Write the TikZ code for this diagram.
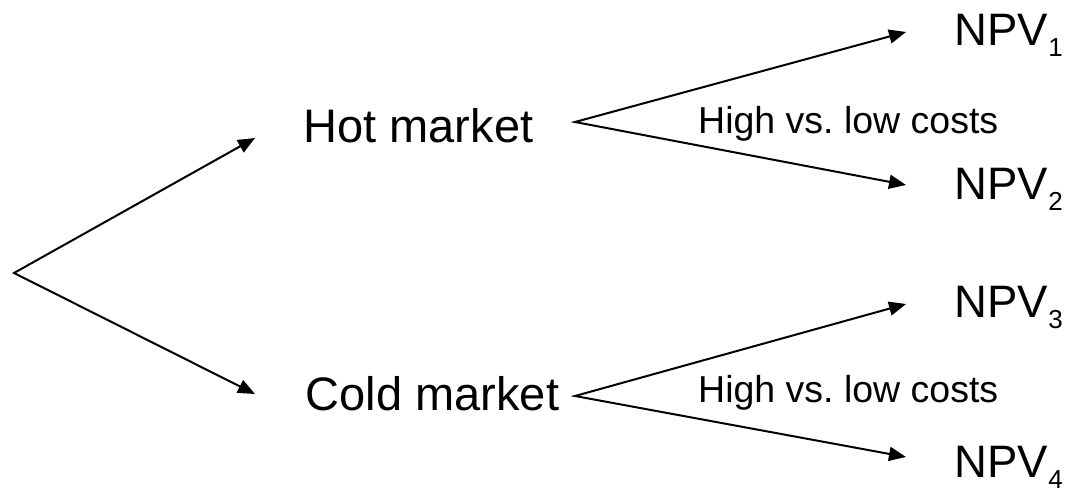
\documentclass[tikz,border=0pt]{standalone}
\usepackage{fontspec}
\setmainfont{Liberation Sans}
\usetikzlibrary{arrows.meta}
\frenchspacing
% lowered index after an outcome label
\newcommand\outidx[1]{\raisebox{-11pt}{\fontsize{26}{30}\selectfont #1}}
\begin{document}
\begin{tikzpicture}[x=1pt,y=-1pt,
  fork/.style={line width=2pt, line join=miter,
    {Triangle[length=17pt,width=14pt]}-{Triangle[length=17pt,width=14pt]}},
  market/.style={anchor=base west, inner sep=0pt, font=\fontsize{47}{56}\selectfont},
  outcome/.style={anchor=base west, inner sep=0pt, font=\fontsize{45.5}{54}\selectfont},
  costs/.style={anchor=base west, inner sep=0pt, font=\fontsize{37.5}{45}\selectfont}]
\useasboundingbox (0,0) rectangle (1071,494);

% first stage: market condition
\coordinate (root) at (14,273);
\node[market] (hot)  at (303.3,143) {Hot market};
\node[market] (cold) at (305.7,410) {Cold market};
\coordinate (hotin)  at (255,138);
\coordinate (coldin) at (255,394);
\draw[fork] (hotin) -- (root) -- (coldin);

% second stage: cost level
\coordinate (hotsplit)  at (575,122);
\coordinate (coldsplit) at (575,396);
\node[outcome] (npv1) at (954.5,46)  {NPV\outidx{1}};
\node[outcome] (npv2) at (954.5,200) {NPV\outidx{2}};
\node[outcome] (npv3) at (954.5,318) {NPV\outidx{3}};
\node[outcome] (npv4) at (954.5,477) {NPV\outidx{4}};
\coordinate (in1) at (906,32);
\coordinate (in2) at (906,185);
\coordinate (in3) at (906,304);
\coordinate (in4) at (906,457);
\draw[fork] (in1) -- (hotsplit) -- (in2);
\draw[fork] (in3) -- (coldsplit) -- (in4);

\node[costs] (hotcosts)  at (698,134) {High vs. low costs};
\node[costs] (coldcosts) at (698,402) {High vs. low costs};
\end{tikzpicture}
\end{document}
